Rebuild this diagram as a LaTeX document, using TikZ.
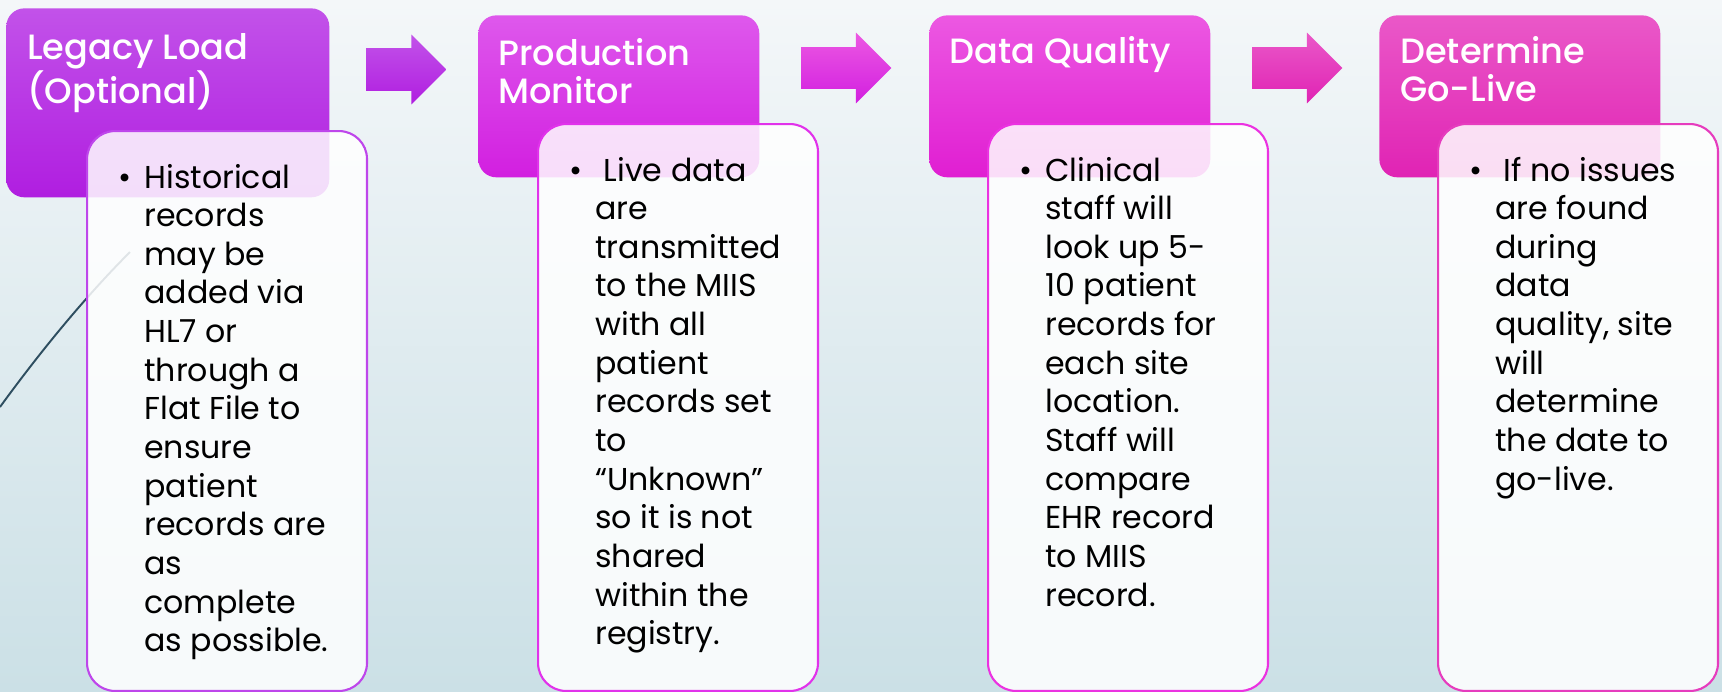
\documentclass[tikz,border=0pt]{standalone}
\usepackage{fontspec}
\setmainfont{Poppins}
\newfontfamily\headfont{Poppins Medium}
\usetikzlibrary{shapes.arrows,positioning}

\definecolor{bgtop}{HTML}{F4F7F9}
\definecolor{bgbot}{HTML}{CBE0E6}
\definecolor{swoosh}{HTML}{2E4E60}
\definecolor{onetop}{HTML}{C252E9}
\definecolor{onebot}{HTML}{B01EE0}
\definecolor{twotop}{HTML}{DE58EC}
\definecolor{twobot}{HTML}{D21FE0}
\definecolor{thrtop}{HTML}{EC58E2}
\definecolor{thrbot}{HTML}{E01ED2}
\definecolor{fourtop}{HTML}{EA58C8}
\definecolor{fourbot}{HTML}{E023B4}
\definecolor{oneline}{HTML}{BE46EB}
\definecolor{twoline}{HTML}{E132EB}
\definecolor{thrline}{HTML}{EB32E1}
\definecolor{fourline}{HTML}{E63CBE}

\newcommand{\titlelines}[1]{\begin{tabular}[t]{@{}l@{}}#1\end{tabular}}
\newcommand{\bulletlines}[1]{\makebox[14.8pt][l]{\textbullet}\begin{tabular}[t]{@{}l@{}}#1\end{tabular}}

\tikzset{
  headbox/.style={rounded corners=0.36cm, minimum width=5.62cm, minimum height=3.24cm,
    anchor=north west, inner sep=0pt},
  headtext/.style={anchor=base west, inner sep=0pt, text=white,
    font=\headfont\fontsize{20}{21.4}\selectfont},
  bodybox/.style={draw, line width=1.2pt, fill=white, fill opacity=0.85,
    rounded corners=0.56cm, minimum width=5.6cm, minimum height=11.34cm,
    anchor=north west, inner sep=0pt},
  bodytext/.style={anchor=base west, inner sep=0pt, font=\fontsize{18}{22}\selectfont},
  flow/.style={single arrow, single arrow head extend=0.29cm, minimum height=1.8cm,
    inner xsep=0pt, inner ysep=0.41cm, anchor=tail}
}

\begin{document}
\begin{tikzpicture}[x=0.02cm, y=-0.02cm]
  % Background
  \useasboundingbox (0,0) rectangle (1722,691);
  \shade[top color=bgtop, bottom color=bgbot] (0,0) rectangle (1722,691);
  \draw[swoosh, line width=1.1pt] (0,407) .. controls (40,352) and (85,297) .. (130,252);

  % Step headers
  \node[headbox, minimum width=6.46cm, minimum height=3.78cm,
    top color=onetop, bottom color=onebot] (h1) at (6,8) {};
  \node[headbox, top color=twotop, bottom color=twobot] (h2) at (478,15) {};
  \node[headbox, top color=thrtop, bottom color=thrbot] (h3) at (929,15) {};
  \node[headbox, top color=fourtop, bottom color=fourbot] (h4) at (1379,15) {};
  \node[headtext] (h1t) at (27,59) {\titlelines{Legacy Load\\(Optional)}};
  \node[headtext] (h2t) at (498,65) {\titlelines{Production\\Monitor}};
  \node[headtext] (h3t) at (949,63) {\titlelines{Data Quality}};
  \node[headtext] (h4t) at (1400,63) {\titlelines{Determine\\Go-Live}};

  % Arrows between the steps
  \node[flow, minimum height=1.6cm, inner ysep=0.42cm, single arrow head extend=0.27cm,
    top color=onetop, bottom color=onebot] (a1) at (366,69.5) {};
  \node[flow, top color=thrtop, bottom color=twobot] (a2) at (801,68) {};
  \node[flow, top color=fourtop, bottom color=fourbot] (a3) at (1252,68) {};

  % Detail boxes
  \node[bodybox, draw=oneline, minimum height=11.2cm] (b1) at (86,130) {};
  \node[bodybox, draw=twoline] (b2) at (537,123) {};
  \node[bodybox, draw=thrline] (b3) at (987,123) {};
  \node[bodybox, draw=fourline] (b4) at (1437,123) {};

  \node[bodytext] (b1t) at (118,188) {\bulletlines{Historical\\records\\may be\\added via\\HL7 or\\through a\\Flat File to\\ensure\\patient\\records are\\as\\complete\\as possible.}};
  \node[bodytext] (b2t) at (569,181) {\bulletlines{\ Live data\\are\\transmitted\\to the MIIS\\with all\\patient\\records set\\to\\“Unknown”\\so it is not\\shared\\within the\\registry.}};
  \node[bodytext] (b3t) at (1019,181) {\bulletlines{Clinical\\staff will\\look up 5-\\10 patient\\records for\\each site\\location.\\Staff will\\compare\\EHR record\\to MIIS\\record.}};
  \node[bodytext] (b4t) at (1469,181) {\bulletlines{\ If no issues\\are found\\during\\data\\quality, site\\will\\determine\\the date to\\go-live.}};
\end{tikzpicture}
\end{document}
